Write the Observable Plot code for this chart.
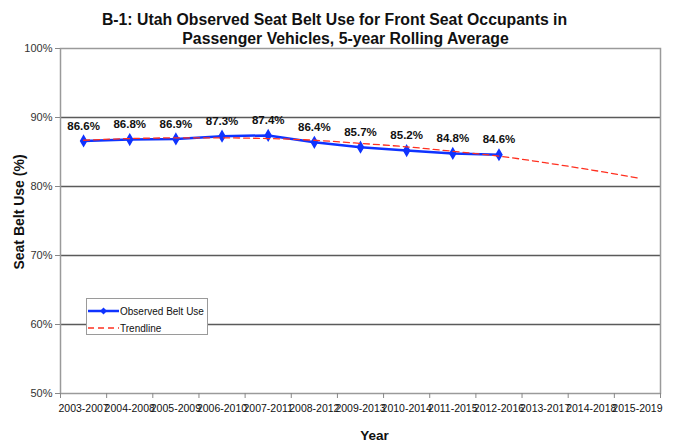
<!DOCTYPE html>
<html>
<head>
<meta charset="utf-8">
<script src="https://cdn.jsdelivr.net/npm/d3@7"></script>
<script src="https://cdn.jsdelivr.net/npm/@observablehq/plot@0.6"></script>
<style>
  body { margin: 0; background: white; }
  #wrap { position: relative; width: 678px; height: 447px; font-family: "Liberation Sans", Arial, sans-serif; }
  #legend { position: absolute; left: 86px; top: 298px; width: 122px; height: 37px; background: white; border: 1px solid #9a9a9a; box-sizing: border-box; font-size: 10px; color: #111; }
  #legend .row { position: absolute; left: 0; height: 14px; display: flex; align-items: center; }
  #legend svg { display: block; }
</style>
</head>
<body>
<div id="wrap"></div>
<script>
const categories = ["2003-2007","2004-2008","2005-2009","2006-2010","2007-2011","2008-2012","2009-2013","2010-2014","2011-2015","2012-2016","2013-2017","2014-2018","2015-2019"];
const observed = [86.6, 86.8, 86.9, 87.3, 87.4, 86.4, 85.7, 85.2, 84.8, 84.6];
const trend = [86.7, 86.95, 87.05, 87.05, 86.95, 86.7, 86.25, 85.75, 85.1, 84.4, 83.45, 82.4, 81.25];
const yTicks = [50, 60, 70, 80, 90, 100];
const gridValues = [60, 70, 80, 90];
const titleLines = ["B-1: Utah Observed Seat Belt Use for Front Seat Occupants in", "Passenger Vehicles, 5-year Rolling Average"];
const yTitle = "Seat Belt Use (%)";
const xTitle = "Year";
const seriesNames = ["Observed Belt Use", "Trendline"];

const obsData = observed.map((v, i) => ({i, v}));
const trendData = trend.map((v, i) => ({i, v}));
const boundaries = d3.range(categories.length + 1).map(k => k - 0.5);

const blue = "#0f33ff";
const red = "#ff3020";

const chart = Plot.plot({
  width: 678,
  height: 447,
  marginTop: 48,
  marginBottom: 54,
  marginLeft: 60,
  marginRight: 18,
  style: { fontFamily: "'Liberation Sans', Arial, sans-serif", background: "white", color: "#111", overflow: "visible" },
  x: { type: "linear", domain: [-0.5, categories.length - 0.5], axis: null },
  y: { domain: [50, 100], axis: null },
  marks: [
    Plot.ruleY(gridValues, { stroke: "#5a5a5a", strokeWidth: 1.3 }),
    Plot.frame({ stroke: "#9a9a9a", strokeWidth: 1.5 }),
    Plot.axisY(yTicks, { tickFormat: d => d + "%", tickSize: 5, tickPadding: 3, fontSize: 11, stroke: "#888", label: null, fill: "#333" }),
    Plot.axisX(boundaries, { tickFormat: () => "", tickSize: 5, stroke: "#888", label: null }),
    Plot.axisX(d3.range(categories.length), { tickFormat: i => categories[i], tickSize: 0, tickPadding: 11, fontSize: 10.5, label: null, fill: "#111" }),
    Plot.line(obsData, { x: "i", y: "v", stroke: blue, strokeWidth: 2.5 }),
    Plot.dot(obsData, { x: "i", y: "v", symbol: "diamond", r: 3.1, fill: blue, stroke: blue }),
    Plot.line(trendData, { x: "i", y: "v", stroke: red, strokeWidth: 1.3, strokeDasharray: "6,4", curve: "natural" }),
    Plot.text(obsData, { x: "i", y: "v", text: d => d.v.toFixed(1) + "%", dy: -15, fontSize: 11.5, fontWeight: "bold", fill: "#111" }),
    Plot.text([titleLines[0]], { text: d => d, frameAnchor: "top", dx: -26, dy: -35, fontSize: 15.8, fontWeight: "bold", fill: "#111" }),
    Plot.text([titleLines[1]], { text: d => d, frameAnchor: "top", dx: -15, dy: -16, fontSize: 15.8, fontWeight: "bold", fill: "#111" }),
    Plot.text([yTitle], { text: d => d, frameAnchor: "left", textAnchor: "middle", dx: -41, dy: -9, rotate: -90, fontSize: 14, fontWeight: "bold", fill: "#111" }),
    Plot.text([xTitle], { text: d => d, frameAnchor: "bottom", dx: 14, dy: 46, fontSize: 13.5, fontWeight: "bold", fill: "#111" })
  ]
});

const wrap = document.getElementById("wrap");
wrap.appendChild(chart);

const legend = document.createElement("div");
legend.id = "legend";
legend.innerHTML = `
  <div class="row" style="top:5px">
    <svg width="33" height="10"><line x1="1" y1="5" x2="32" y2="5" stroke="${blue}" stroke-width="2.5"/><path d="M16.5 1.5 L20 5 L16.5 8.5 L13 5 Z" fill="${blue}"/></svg>
    <span>${seriesNames[0]}</span>
  </div>
  <div class="row" style="top:22px">
    <svg width="33" height="10"><line x1="1" y1="5" x2="32" y2="5" stroke="${red}" stroke-width="1.3" stroke-dasharray="6,4"/></svg>
    <span>${seriesNames[1]}</span>
  </div>`;
wrap.appendChild(legend);
</script>
</body>
</html>
